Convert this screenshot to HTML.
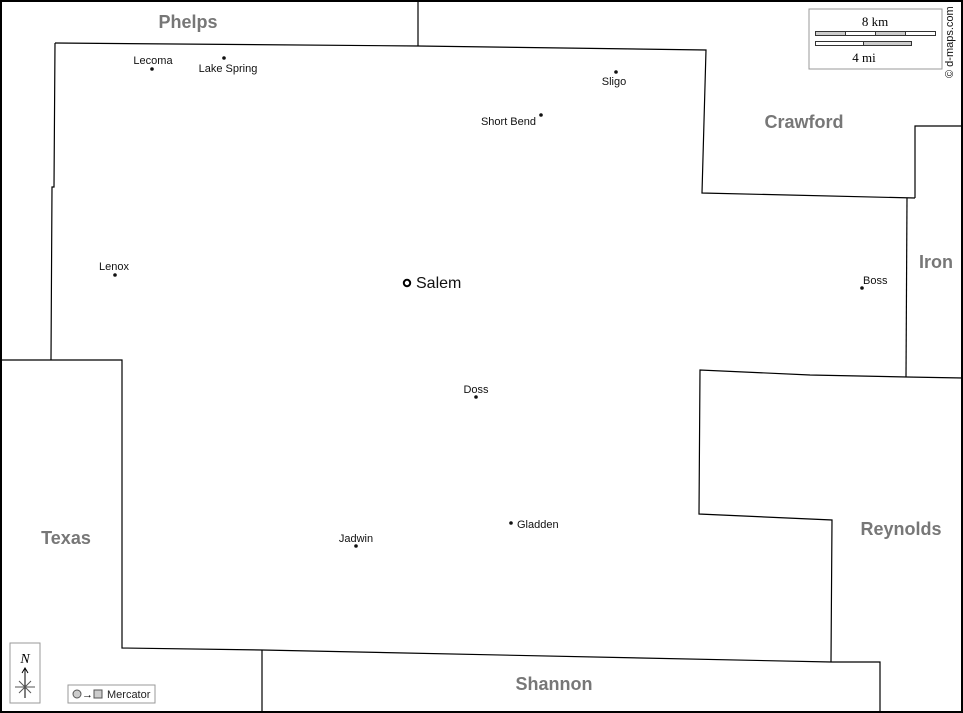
<!DOCTYPE html>
<html><head><meta charset="utf-8"><style>
html,body{margin:0;padding:0;background:#fff}
svg{display:block}
text{font-family:"Liberation Sans",Arial,sans-serif}
.t{font-size:11px;fill:#111}
.c{font-size:18px;font-weight:bold;fill:#777}
</style></head><body>
<svg width="963" height="713" viewBox="0 0 963 713" xmlns="http://www.w3.org/2000/svg">
<rect x="0" y="0" width="963" height="713" fill="#fff"/>
<g fill="none" stroke="#000" stroke-width="1.2">
<polyline points="55,43 418,46 706,50 702,193 915,198"/>
<polyline points="55,43 54,187 52,187 51,360"/>
<polyline points="418,0 418,46"/>
<polyline points="915,198 915,126 963,126"/>
<polyline points="907,198 906,377"/>
<polyline points="963,378 907,377 810,375 700,370 699,514 832,520 831,662"/>
<polyline points="0,360 122,360 122,648 262,650 831,662 880,662 880,713"/>
<polyline points="262,650 262,713"/>
</g>
<rect x="1" y="1" width="961" height="711" fill="none" stroke="#000" stroke-width="2"/>
<text class="c" x="188" y="28" text-anchor="middle">Phelps</text>
<text class="c" x="804" y="128" text-anchor="middle">Crawford</text>
<text class="c" x="936" y="268" text-anchor="middle">Iron</text>
<text class="c" x="66" y="544" text-anchor="middle">Texas</text>
<text class="c" x="901" y="535" text-anchor="middle">Reynolds</text>
<text class="c" x="554" y="690" text-anchor="middle">Shannon</text>
<g fill="#111">
<circle cx="152" cy="69" r="1.8"/><circle cx="224" cy="58" r="1.8"/>
<circle cx="616" cy="72" r="1.8"/><circle cx="541" cy="115" r="1.8"/>
<circle cx="115" cy="275" r="1.8"/><circle cx="862" cy="288" r="1.8"/>
<circle cx="476" cy="397" r="1.8"/><circle cx="511" cy="523" r="1.8"/>
<circle cx="356" cy="546" r="1.8"/>
</g>
<circle cx="407" cy="283" r="3.2" fill="#fff" stroke="#000" stroke-width="2"/>
<text x="416" y="288" style="font-size:16px;fill:#111">Salem</text>
<text class="t" x="153" y="64" text-anchor="middle">Lecoma</text>
<text class="t" x="228" y="72" text-anchor="middle">Lake Spring</text>
<text class="t" x="614" y="85" text-anchor="middle">Sligo</text>
<text class="t" x="536" y="125" text-anchor="end">Short Bend</text>
<text class="t" x="114" y="270" text-anchor="middle">Lenox</text>
<text class="t" x="863" y="284">Boss</text>
<text class="t" x="476" y="393" text-anchor="middle">Doss</text>
<text class="t" x="517" y="528">Gladden</text>
<text class="t" x="356" y="542" text-anchor="middle">Jadwin</text>
<rect x="809" y="9" width="133" height="60" fill="#fff" stroke="#999" stroke-width="1"/>
<text x="875" y="26" text-anchor="middle" style="font-family:'Liberation Serif',serif;font-size:13px">8 km</text>
<rect x="815.5" y="31.5" width="120" height="4" fill="#fff" stroke="#333"/>
<rect x="815.5" y="31.5" width="30" height="4" fill="#ccc" stroke="#333"/>
<rect x="875.5" y="31.5" width="30" height="4" fill="#ccc" stroke="#333"/>
<line x1="845.5" y1="31" x2="845.5" y2="36" stroke="#333"/>
<rect x="815.5" y="41.5" width="96" height="4" fill="#fff" stroke="#333"/>
<rect x="863.5" y="41.5" width="48" height="4" fill="#ccc" stroke="#333"/>
<text x="864" y="62" text-anchor="middle" style="font-family:'Liberation Serif',serif;font-size:13px">4 mi</text>
<text transform="translate(953,78) rotate(-90)" style="font-size:11px;fill:#111">© d-maps.com</text>
<rect x="10" y="643" width="30" height="60" fill="#fff" stroke="#999"/>
<text x="25" y="663" text-anchor="middle" style="font-family:'Liberation Serif',serif;font-style:italic;font-size:14px">N</text>
<line x1="25" y1="669" x2="25" y2="698" stroke="#000" stroke-width="1"/>
<polyline points="22,673 25,668 28,673" fill="none" stroke="#000"/>
<line x1="15" y1="687" x2="35" y2="687" stroke="#555"/>
<line x1="19" y1="681" x2="31" y2="693" stroke="#555"/>
<line x1="31" y1="681" x2="19" y2="693" stroke="#555"/>
<rect x="68" y="685" width="87" height="18" fill="#fff" stroke="#999"/>
<circle cx="77" cy="694" r="4" fill="#ccc" stroke="#555"/>
<text x="82" y="698" style="font-size:11px">→</text>
<rect x="94" y="690" width="8" height="8" fill="#ccc" stroke="#555"/>
<text x="107" y="698" style="font-size:11px;fill:#222">Mercator</text>
</svg>
</body></html>
